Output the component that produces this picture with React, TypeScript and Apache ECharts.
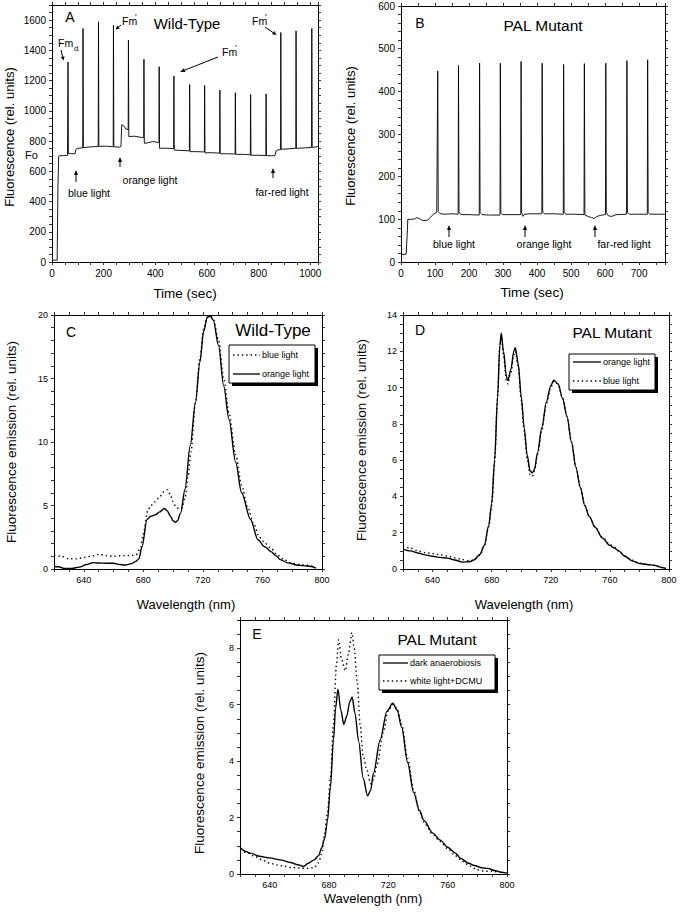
import React, { useEffect, useRef } from "react";
import * as echarts from "echarts";

// ---------- DATA ----------
// Panel A: Wild-Type fluorescence trace [time (s), fluorescence]
const traceWT: number[][] = [
  [0, 12], [20, 12], [23, 500], [26, 700], [30, 703], [45, 704], [60, 705],
  [61, 706], [62, 1323], [63.5, 716], [75, 717], [89, 716], [93, 745], [100, 752], [119, 755],
  [120, 1545], [121.5, 756], [150, 762], [179, 764],
  [180, 1589], [181.5, 765], [210, 766], [237, 762],
  [238, 1567], [239.5, 762], [262, 760], [267, 763], [270, 908], [277, 902], [286, 880], [295, 876],
  [296, 1467], [297.5, 830], [320, 832], [340, 826], [355, 822],
  [356, 1341], [357.5, 785], [375, 790], [390, 797], [405, 793], [414, 790],
  [415, 1292], [416.5, 752], [440, 753], [471, 750],
  [472, 1230], [473.5, 740], [500, 738], [532, 735],
  [533, 1174], [534.5, 730], [560, 730], [590, 728],
  [591, 1168], [592.5, 722], [620, 723], [649, 720],
  [650, 1137], [651.5, 716], [680, 716], [709, 714],
  [710, 1119], [711.5, 712], [740, 712], [768, 709],
  [769, 1108], [770.5, 706], [800, 706], [828, 704],
  [829, 1112], [830.5, 703], [850, 703], [863, 703], [868, 735], [875, 742], [885, 743],
  [886, 1518], [887.5, 745], [910, 748], [944, 752],
  [945, 1529], [946.5, 752], [980, 755], [1005, 758],
  [1006, 1545], [1007.5, 758], [1025, 762], [1030, 766],
];

// Panel B: PAL mutant fluorescence trace
const tracePAL: number[][] = [
  [0, 18], [15, 18], [18, 60], [20, 100], [30, 100], [40, 101], [47, 104], [55, 101], [65, 97], [78, 98],
  [86, 104], [95, 112], [105, 116], [107, 116],
  [108, 448], [109.5, 118], [115, 113], [130, 112], [150, 113], [168, 112],
  [169, 461], [170.5, 118], [176, 111], [200, 111], [230, 110],
  [231, 466], [232.5, 116], [238, 111], [260, 110], [291, 110],
  [292, 466], [293.5, 116], [299, 111], [330, 111], [352, 111],
  [353, 470], [354.5, 116], [359, 107], [363, 112], [380, 113], [414, 113],
  [415, 466], [416.5, 117], [422, 113], [450, 113], [477, 112],
  [478, 463], [479.5, 116], [485, 112], [510, 112], [538, 111],
  [539, 465], [540.5, 110], [550, 107], [560, 104], [568, 102], [576, 107], [590, 110], [601, 111],
  [602, 466], [603.5, 116], [610, 108], [620, 107], [632, 111], [663, 112],
  [664, 472], [665.5, 116], [672, 112], [700, 112], [724, 112],
  [725, 474], [726.5, 116], [732, 112], [760, 112], [776, 112],
];

// Panel C: Wild-Type emission spectra [wavelength (nm), emission]
const specC_blue: number[][] = [
  [620, 1.1], [625, 1.0], [630, 0.8], [635, 0.8], [640, 0.9], [645, 1.0], [650, 1.15], [655, 1.05],
  [660, 1.0], [665, 1.05], [670, 1.05], [675, 1.1], [678, 1.6], [680, 2.8], [683, 4.6], [685, 5.0],
  [688, 5.3], [691, 5.7], [694, 6.1], [696, 6.25], [698, 5.9], [700, 5.3], [702, 4.85], [704, 4.75],
  [706, 4.8], [708, 5.6], [710, 7.2], [712, 9.2], [715, 13.1], [718, 16.6], [720.5, 18.9], [723, 19.8],
  [725, 19.9], [727, 19.7], [730.5, 18.0], [734, 15.0], [737.5, 12.3], [742, 9.0], [746, 6.6],
  [750, 4.9], [754, 3.6], [758, 2.5], [762, 2.0], [766, 1.6], [770, 1.1], [775, 0.7], [780, 0.45],
  [785, 0.35], [790, 0.3], [795, 0.15],
];
const specC_orange: number[][] = [
  [620, 0.2], [623, 0.18], [627, 0.05], [632, 0.05], [637, 0.15], [642, 0.35], [646, 0.5], [650, 0.47],
  [655, 0.45], [660, 0.45], [664, 0.35], [668, 0.32], [672, 0.42], [675, 0.6], [677, 0.8], [679, 1.7],
  [682.5, 3.9], [685, 4.15], [688, 4.26], [691, 4.5], [694, 4.76], [696, 4.6], [698, 4.2], [700, 3.8],
  [701.5, 3.68], [703, 3.8], [705, 4.4], [708, 6.3], [711.5, 9.7], [715, 13.1], [718, 16.3],
  [720.5, 18.7], [723, 19.85], [725, 19.9], [727, 19.6], [730.5, 17.6], [734, 14.4], [737.5, 11.8],
  [742, 8.4], [746, 6.0], [752, 3.9], [757, 2.3], [761.5, 1.75], [766, 1.35], [769, 1.05], [772, 0.74],
  [777, 0.48], [784, 0.3], [790, 0.24], [793, 0.2], [796, 0.06],
];

// Panel D: PAL mutant spectra
const specD_orange: number[][] = [
  [620, 1.1], [625, 1.0], [630, 0.88], [635, 0.78], [640, 0.7], [645, 0.64], [650, 0.6], [655, 0.5],
  [660, 0.38], [665, 0.4], [668, 0.5], [672, 0.8], [675, 1.3], [678, 2.4], [680, 3.6], [682, 6.0],
  [684, 9.5], [685.5, 12.3], [686.5, 13.0], [688, 12.0], [690, 10.6], [691, 10.4], [693, 11.0],
  [695, 12.0], [696, 12.2], [698, 11.3], [700, 9.5], [702, 7.8], [704, 6.3], [706, 5.4], [707.5, 5.3],
  [709, 5.5], [711, 6.4], [714, 7.8], [717, 9.2], [720, 10.1], [722, 10.4], [725, 10.2], [728, 9.4],
  [731, 8.4], [734, 7.0], [737, 5.6], [740, 4.5], [743, 3.5], [746, 2.9], [750, 2.3], [755, 1.7],
  [760, 1.3], [763, 1.15], [766, 1.0], [770, 0.7], [775, 0.45], [780, 0.3], [785, 0.25], [790, 0.2],
  [795, 0.08], [798, 0.03],
];
const specD_blue: number[][] = [
  [620, 1.3], [625, 1.15], [630, 1.0], [635, 0.9], [640, 0.85], [645, 0.78], [650, 0.72], [655, 0.62],
  [660, 0.52], [665, 0.45], [668, 0.5], [672, 0.75], [675, 1.25], [678, 2.3], [680, 3.5], [682, 5.9],
  [684, 9.4], [685.5, 12.2], [686.5, 12.9], [688, 11.8], [690, 10.4], [691, 10.2], [693, 10.8],
  [695, 11.8], [696, 12.0], [698, 11.1], [700, 9.3], [702, 7.6], [704, 6.1], [706, 5.2], [707.5, 5.1],
  [709, 5.4], [711, 6.3], [714, 7.7], [717, 9.1], [720, 10.0], [722, 10.35], [725, 10.2], [728, 9.4],
  [731, 8.4], [734, 7.0], [737, 5.6], [740, 4.5], [743, 3.5], [746, 2.9], [750, 2.3], [755, 1.75],
  [760, 1.35], [763, 1.2], [766, 1.0], [770, 0.72], [775, 0.48], [780, 0.32], [785, 0.25], [790, 0.2],
  [795, 0.1],
];

// Panel E: PAL mutant spectra
const specE_dark: number[][] = [
  [620, 0.95], [624, 0.8], [627, 0.74], [633, 0.63], [640, 0.57], [647, 0.5], [654, 0.41], [659, 0.33],
  [663, 0.27], [666, 0.38], [670, 0.5], [673, 0.65], [675, 0.92], [677, 1.25], [679, 1.9], [681, 3.1],
  [683, 4.75], [684.5, 5.9], [686, 6.55], [688, 5.8], [690, 5.3], [692, 5.6], [694, 6.1], [695.6, 6.27],
  [697.5, 5.7], [700, 4.7], [703, 3.4], [706, 2.77], [708, 2.95], [710, 3.57], [714.5, 4.75],
  [719, 5.76], [723, 6.05], [726, 5.8], [729, 5.2], [733, 3.95], [737, 2.9], [741, 2.25], [744, 1.9],
  [750, 1.45], [755, 1.2], [760, 0.95], [765, 0.75], [769, 0.55], [774, 0.38], [778, 0.3], [783, 0.22],
  [787, 0.2], [792, 0.12], [796, 0.06], [800, 0.03],
];
const specE_dcmu: number[][] = [
  [620, 0.85], [625, 0.75], [630, 0.62], [635, 0.5], [640, 0.38], [645, 0.32], [650, 0.27], [655, 0.23],
  [660, 0.21], [665, 0.2], [670, 0.22], [673, 0.4], [675, 0.7], [677, 1.4], [679, 2.2], [681, 3.4],
  [683, 5.3], [685, 7.4], [686.5, 8.3], [688.5, 7.6], [691, 7.2], [693, 7.8], [695.5, 8.55], [697, 8.0],
  [699, 6.8], [701, 5.3], [703, 4.2], [705.5, 3.7], [708, 3.2], [710, 3.35], [712.5, 3.9], [716.5, 5.0],
  [720, 5.8], [723, 6.0], [726, 5.85], [729, 5.3], [733, 4.1], [737, 3.0], [741, 2.2], [745, 1.75],
  [750, 1.4], [755, 1.15], [760, 0.9], [765, 0.65], [770, 0.45], [775, 0.28], [780, 0.15], [785, 0.1],
  [790, 0.1], [795, 0.05],
];

// Tick labels
const aXLabels = [0, 200, 400, 600, 800, 1000];
const aYLabels = [0, 200, 400, 600, 800, 1000, 1200, 1400, 1600];
const bXLabels = [0, 100, 200, 300, 400, 500, 600, 700];
const bYLabels = [0, 100, 200, 300, 400, 500, 600];
const specXLabels = [640, 680, 720, 760, 800];
const cYLabels = [0, 5, 10, 15, 20];
const dYLabels = [0, 2, 4, 6, 8, 10, 12, 14];
const eYLabels = [0, 2, 4, 6, 8];

const FONT = '"Liberation Sans", Arial, Helvetica, sans-serif';

type AxisSpec = { min: number; max: number; interval: number; labels: number[]; size: number };

function buildAxes(gi: number, xs: AxisSpec, ys: AxisSpec) {
  const base = (s: AxisSpec) => ({
    type: "value" as const,
    gridIndex: gi,
    min: s.min,
    max: s.max,
    interval: s.interval,
    splitLine: { show: false },
    axisLine: { show: true, onZero: false, lineStyle: { color: "#000", width: 1 } },
    axisTick: { show: true, inside: false, length: 3, lineStyle: { color: "#000", width: 0.8 } },
  });
  const fmt = (s: AxisSpec) => (v: number) =>
    s.labels.some((l) => Math.abs(l - v) < 1e-6) ? String(Math.round(v)) : "";
  const xAxes = [
    {
      ...base(xs),
      position: "bottom",
      axisLabel: { show: true, formatter: fmt(xs), color: "#000", fontSize: xs.size, fontFamily: FONT, fontWeight: "normal", margin: 6, showMinLabel: true, showMaxLabel: true, hideOverlap: false },
    },
    { ...base(xs), position: "top", axisLabel: { show: false } },
  ];
  const yAxes = [
    {
      ...base(ys),
      position: "left",
      axisLabel: { show: true, formatter: fmt(ys), color: "#000", fontSize: ys.size, fontFamily: FONT, fontWeight: "normal", margin: 6, showMinLabel: true, showMaxLabel: true, hideOverlap: false },
    },
    { ...base(ys), position: "right", axisLabel: { show: false } },
  ];
  return { xAxes, yAxes };
}

const txt = (x: number, y: number, text: string, size: number, align = "center", rot = 0) => ({
  type: "text",
  x,
  y,
  rotation: rot,
  z: 100,
  silent: true,
  style: { text, fontSize: size, fontFamily: FONT, fontWeight: "normal", fill: "#000", align, verticalAlign: "middle" },
});

const arrow = (x1: number, y1: number, x2: number, y2: number, head = 5) => {
  const dx = x2 - x1, dy = y2 - y1;
  const L = Math.hypot(dx, dy);
  const ux = dx / L, uy = dy / L;
  const bx = x2 - ux * head, by = y2 - uy * head;
  const px = -uy * 2, py = ux * 2;
  return [
    { type: "line", z: 100, silent: true, shape: { x1, y1, x2: bx, y2: by }, style: { stroke: "#000", lineWidth: 1 } },
    { type: "polygon", z: 100, silent: true, shape: { points: [[x2, y2], [bx + px, by + py], [bx - px, by - py]] }, style: { fill: "#000" } },
  ];
};

const legendBox = (
  x: number, y: number, w: number, h: number,
  entries: { dashed: boolean; label: string; ly: number }[],
  lx1: number, lx2: number, tx: number
) => {
  const els: any[] = [
    { type: "rect", z: 90, silent: true, shape: { x: x + 3, y: y + 3, width: w, height: h }, style: { fill: "#000" } },
    { type: "rect", z: 91, silent: true, shape: { x, y, width: w, height: h }, style: { fill: "#fff", stroke: "#000", lineWidth: 1 } },
  ];
  entries.forEach((e) => {
    els.push({
      type: "line", z: 92, silent: true,
      shape: { x1: lx1, y1: e.ly, x2: lx2, y2: e.ly },
      style: { stroke: "#000", lineWidth: e.dashed ? 1.4 : 1.3, lineDash: e.dashed ? [1.4, 3] : null },
    });
    els.push({ ...txt(tx, e.ly, e.label, 9, "left"), z: 93 });
  });
  return els;
};

const solid = (xi: number, data: number[][], smooth: number | boolean = 0.3, width = 1.4) => ({
  type: "line", xAxisIndex: xi, yAxisIndex: xi, data, symbol: "none", smooth, smoothMonotone: "x",
  silent: true, lineStyle: { color: "#000", width },
});
const dotted = (xi: number, data: number[][]) => ({
  type: "line", xAxisIndex: xi, yAxisIndex: xi, data, symbol: "none", smooth: 0.3, smoothMonotone: "x",
  silent: true, lineStyle: { color: "#000", width: 1.4, type: [1.4, 3] },
});

export default function App() {
  const ref = useRef<HTMLDivElement>(null);
  useEffect(() => {
    if (!ref.current) return;
    const chart = echarts.init(ref.current, null, { renderer: "svg" });
    const spec = (labels: number[]) => ({ min: 620, max: 800, interval: 10, labels, size: 9 });
    const A = buildAxes(0, { min: 0, max: 1030, interval: 50, labels: aXLabels, size: 10 }, { min: 0, max: 1700, interval: 50, labels: aYLabels, size: 10 });
    const B = buildAxes(1, { min: 0, max: 776, interval: 50, labels: bXLabels, size: 10 }, { min: 0, max: 600, interval: 20, labels: bYLabels, size: 10 });
    const C = buildAxes(2, spec(specXLabels), { min: 0, max: 20, interval: 1, labels: cYLabels, size: 9 });
    const D = buildAxes(3, spec(specXLabels), { min: 0, max: 14, interval: 0.5, labels: dYLabels, size: 9 });
    const E = buildAxes(4, spec(specXLabels), { min: 0, max: 9, interval: 0.5, labels: eYLabels, size: 9 });
    const all = [A, B, C, D, E];

    const graphics: any[] = [
      // Panel A
      txt(70, 17, "A", 14),
      txt(187, 23, "Wild-Type", 15),
      txt(58, 43, "Fm", 10.5, "left"),
      txt(74, 48, "d", 8, "left"),
      ...arrow(61, 50, 63.5, 60.5, 4),
      txt(122, 21, "Fm", 10.5, "left"),
      txt(135, 17, "'", 9, "left"),
      ...arrow(121, 25, 115.5, 29.5, 4),
      txt(222, 52, "Fm", 10.5, "left"),
      txt(235, 48, "'", 9, "left"),
      ...arrow(218, 57, 180, 72),
      txt(252, 21, "Fm", 10.5, "left"),
      txt(265, 17, "'", 9, "left"),
      ...arrow(265, 27, 276.5, 35, 4),
      txt(25, 155, "Fo", 11, "left"),
      ...arrow(76, 182, 76, 170),
      txt(89, 193, "blue light", 10.5),
      ...arrow(120, 167, 120, 157),
      txt(150, 180, "orange light", 10.5),
      ...arrow(273, 178, 273, 168),
      txt(282, 192, "far-red light", 10.5),
      txt(185, 293, "Time (sec)", 13.5),
      txt(9, 137, "Fluorescence (rel. units)", 13, "center", Math.PI / 2),
      // Panel B
      txt(420, 23, "B", 14),
      txt(543, 25, "PAL Mutant", 15.5),
      ...arrow(449, 237, 449, 225),
      txt(454, 244, "blue light", 10.5),
      ...arrow(525, 237, 525, 225),
      txt(544, 244, "orange light", 10.5),
      ...arrow(595, 237, 595, 225),
      txt(624, 244, "far-red light", 10.5),
      txt(532, 292, "Time (sec)", 13.5),
      txt(350, 136, "Fluorescence (rel. units)", 13, "center", Math.PI / 2),
      // Panel C
      txt(71, 332, "C", 14),
      txt(273, 330, "Wild-Type", 17),
      ...legendBox(229, 345, 86, 38, [
        { dashed: true, label: "blue light", ly: 355 },
        { dashed: false, label: "orange light", ly: 374 },
      ], 233, 260, 262),
      txt(186, 604, "Wavelength (nm)", 13),
      txt(11, 442, "Fluorescence emission (rel. units)", 13.5, "center", Math.PI / 2),
      // Panel D
      txt(420, 330, "D", 14),
      txt(612, 332, "PAL Mutant", 15.5),
      ...legendBox(569, 354, 86, 36, [
        { dashed: false, label: "orange light", ly: 362 },
        { dashed: true, label: "blue light", ly: 381 },
      ], 573, 601, 603),
      txt(524, 604, "Wavelength (nm)", 13),
      txt(361, 440, "Fluorescence emission (rel. units)", 13.5, "center", Math.PI / 2),
      // Panel E
      txt(257, 634, "E", 14),
      txt(437, 639, "PAL Mutant", 15.5),
      ...legendBox(379, 655, 116, 35, [
        { dashed: false, label: "dark anaerobiosis", ly: 663 },
        { dashed: true, label: "white light+DCMU", ly: 681 },
      ], 383, 408, 410),
      txt(373, 898, "Wavelength (nm)", 13),
      txt(199, 753, "Fluorescence emission (rel. units)", 13.5, "center", Math.PI / 2),
    ];

    chart.setOption({
      animation: false,
      backgroundColor: "#fff",
      grid: [
        { left: 52, top: 5, width: 266, height: 257 },
        { left: 401, top: 6, width: 264, height: 256 },
        { left: 54, top: 315, width: 268, height: 254 },
        { left: 403, top: 315, width: 266, height: 254 },
        { left: 240, top: 620, width: 267, height: 254 },
      ],
      xAxis: all.flatMap((p) => p.xAxes),
      yAxis: all.flatMap((p) => p.yAxes),
      series: [
        solid(0, traceWT, false, 0.9),
        solid(2, tracePAL, false, 0.9),
        dotted(4, specC_blue),
        solid(4, specC_orange),
        solid(6, specD_orange),
        dotted(6, specD_blue),
        solid(8, specE_dark),
        dotted(8, specE_dcmu),
      ],
      graphic: graphics,
    });
    return () => chart.dispose();
  }, []);
  return (
    <div
      ref={ref}
      style={{ position: "absolute", left: 0, top: 0, width: 680, height: 920, background: "#fff" }}
    />
  );
}
